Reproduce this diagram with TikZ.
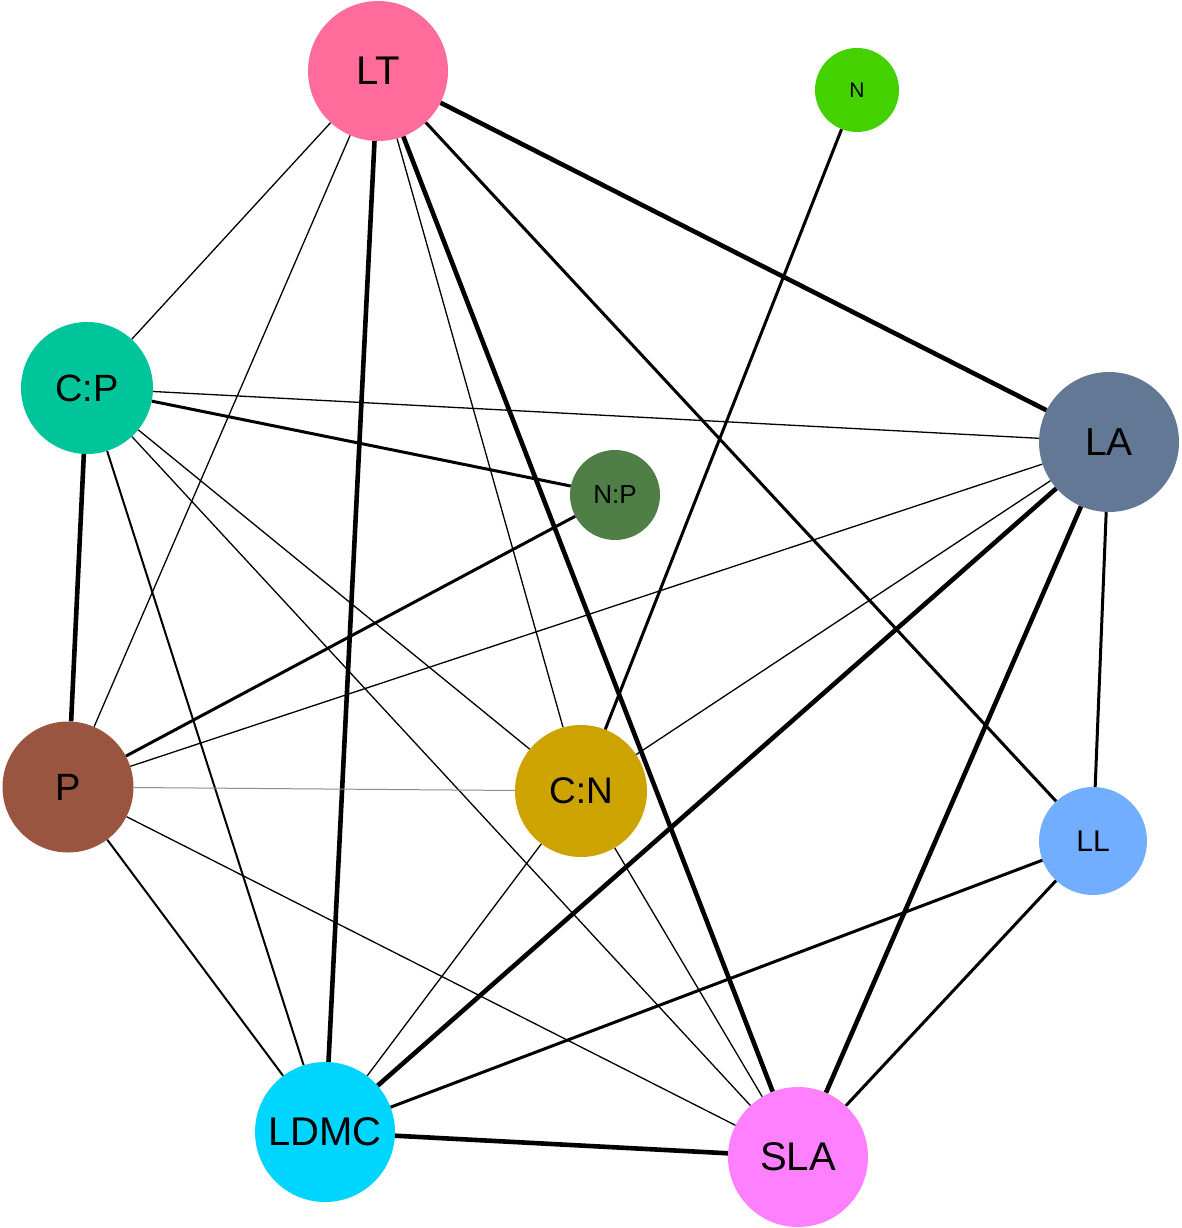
\documentclass[tikz,border=0pt]{standalone}
\usepackage{fontspec}
\setmainfont{Liberation Sans}
\begin{document}
\begin{tikzpicture}[x=1pt,y=-1pt,
  vtx/.style={circle,inner sep=0pt,draw=none,text=black},
  thick5/.style={line width=4.6pt,black},
  med3/.style={line width=3pt,black},
  mid2/.style={line width=2pt,black},
  thin1/.style={line width=1.3pt,black},
  hair/.style={line width=1pt,black!45}]
\useasboundingbox (0,0) rectangle (1181,1228);
\definecolor{cLT}{HTML}{FF6B9B}
\definecolor{cN}{HTML}{44D100}
\definecolor{cCP}{HTML}{00C49A}
\definecolor{cLA}{HTML}{627894}
\definecolor{cNP}{HTML}{4F7F46}
\definecolor{cP}{HTML}{9A5540}
\definecolor{cCN}{HTML}{CCA300}
\definecolor{cLL}{HTML}{72AEFF}
\definecolor{cLDMC}{HTML}{00D5FF}
\definecolor{cSLA}{HTML}{FF80FF}
\node[vtx,fill=cLT,minimum size=140pt,font=\fontsize{40}{40}\selectfont] (LT) at (378,71) {LT};
\node[vtx,fill=cN,minimum size=84pt,font=\fontsize{21}{21}\selectfont] (N) at (857,90) {N};
\node[vtx,fill=cCP,minimum size=132pt,font=\fontsize{38}{38}\selectfont] (CP) at (87,388) {C:P};
\node[vtx,fill=cLA,minimum size=140pt,font=\fontsize{39}{39}\selectfont] (LA) at (1109,442) {LA};
\node[vtx,fill=cNP,minimum size=90pt,font=\fontsize{26}{26}\selectfont] (NP) at (615,495) {N:P};
\node[vtx,fill=cP,minimum size=131pt,font=\fontsize{38}{38}\selectfont] (P) at (68,787) {P};
\node[vtx,fill=cCN,minimum size=132pt,font=\fontsize{37}{37}\selectfont] (CN) at (581,791) {C:N};
\node[vtx,fill=cLL,minimum size=108pt,font=\fontsize{30}{30}\selectfont] (LL) at (1093,841) {LL};
\node[vtx,fill=cLDMC,minimum size=140pt,font=\fontsize{40}{40}\selectfont] (LDMC) at (325,1132) {LDMC};
\node[vtx,fill=cSLA,minimum size=140pt,font=\fontsize{40}{40}\selectfont] (SLA) at (798,1157) {SLA};
% edges from LT
\draw[thin1] (LT) -- (CP);
\draw[thin1] (LT) -- (P);
\draw[thick5] (LT) -- (LDMC);
\draw[thin1] (LT) -- (CN);
\draw[thick5] (LT) -- (SLA);
\draw[med3] (LT) -- (LL);
\draw[thick5] (LT) -- (LA);
% N
\draw[med3] (N) -- (CN);
% C:P
\draw[thin1] (CP) -- (LA);
\draw[med3] (CP) -- (NP);
\draw[thick5] (CP) -- (P);
\draw[mid2] (CP) -- (LDMC);
\draw[thin1] (CP) -- (CN);
\draw[thin1] (CP) -- (SLA);
% N:P
\draw[med3] (NP) -- (P);
% P
\draw[thin1] (P) -- (LA);
\draw[hair] (P) -- (CN);
\draw[mid2] (P) -- (LDMC);
\draw[thin1] (P) -- (SLA);
% C:N
\draw[thin1] (CN) -- (LA);
\draw[thin1] (CN) -- (LDMC);
\draw[thin1] (CN) -- (SLA);
% LA
\draw[thick5] (LA) -- (LDMC);
\draw[thick5] (LA) -- (SLA);
\draw[med3] (LA) -- (LL);
% LL
\draw[med3] (LL) -- (LDMC);
\draw[med3] (LL) -- (SLA);
% LDMC
\draw[thick5] (LDMC) -- (SLA);
\end{tikzpicture}
\end{document}
